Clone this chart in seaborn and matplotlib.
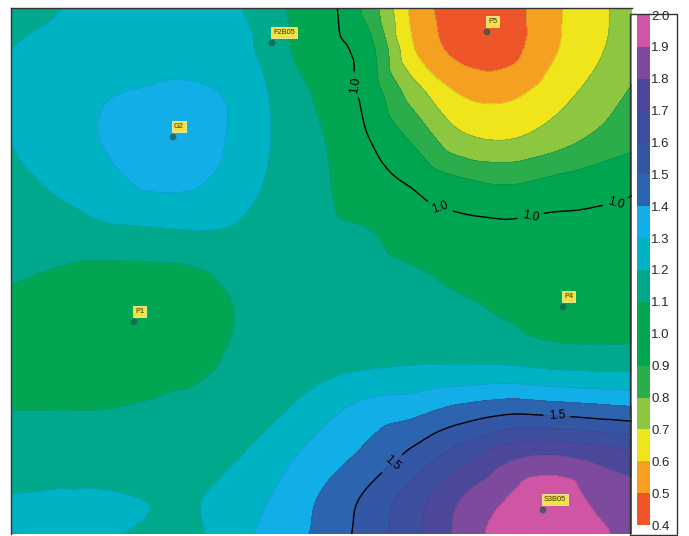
import numpy as np
import matplotlib
matplotlib.use("Agg")
import matplotlib.pyplot as plt
import matplotlib.tri as mtri
from matplotlib.colors import ListedColormap, BoundaryNorm
from matplotlib.patches import Rectangle
import seaborn as sns

sns.set_style("white")
plt.rcParams['font.family'] = ['Liberation Sans', 'DejaVu Sans']

# grid positions (map coordinates) and values
x_pos = [10, 55, 100, 145, 190, 235, 280, 325, 370, 415, 460, 505, 550, 595, 640]
y_pos = [5, 50, 95, 140, 185, 230, 275, 320, 365, 410, 455, 500, 545]

z_rows = [
    [1.15, 1.19, 1.25, 1.27, 1.27, 1.21, 1.11, 1.04, 0.85, 0.56, 0.45, 0.45, 0.57, 0.67, 0.76],
    [1.20, 1.23, 1.26, 1.26, 1.26, 1.25, 1.12, 1.05, 0.93, 0.60, 0.47, 0.46, 0.58, 0.68, 0.78],
    [1.21, 1.25, 1.29, 1.31, 1.32, 1.28, 1.17, 1.07, 0.96, 0.75, 0.60, 0.58, 0.65, 0.74, 0.83],
    [1.20, 1.25, 1.30, 1.36, 1.36, 1.28, 1.18, 1.10, 1.00, 0.88, 0.73, 0.70, 0.75, 0.82, 0.88],
    [1.17, 1.21, 1.25, 1.31, 1.31, 1.25, 1.17, 1.11, 1.03, 0.99, 0.93, 0.90, 0.93, 0.96, 0.99],
    [1.14, 1.16, 1.18, 1.19, 1.20, 1.19, 1.15, 1.12, 1.10, 1.05, 1.03, 1.02, 1.03, 1.03, 1.03],
    [1.11, 1.09, 1.07, 1.07, 1.08, 1.12, 1.15, 1.15, 1.13, 1.11, 1.08, 1.06, 1.05, 1.05, 1.05],
    [1.07, 1.05, 1.04, 1.04, 1.05, 1.10, 1.15, 1.16, 1.16, 1.15, 1.13, 1.10, 1.06, 1.05, 1.06],
    [1.07, 1.06, 1.05, 1.06, 1.07, 1.12, 1.17, 1.17, 1.19, 1.20, 1.20, 1.20, 1.18, 1.17, 1.17],
    [1.10, 1.10, 1.10, 1.11, 1.13, 1.15, 1.19, 1.27, 1.34, 1.37, 1.43, 1.47, 1.46, 1.44, 1.42],
    [1.14, 1.15, 1.15, 1.15, 1.16, 1.19, 1.27, 1.35, 1.43, 1.53, 1.65, 1.76, 1.80, 1.76, 1.72],
    [1.205, 1.21, 1.21, 1.20, 1.19, 1.25, 1.32, 1.42, 1.53, 1.66, 1.80, 1.90, 1.98, 1.88, 1.83],
    [1.195, 1.20, 1.20, 1.19, 1.18, 1.27, 1.36, 1.44, 1.55, 1.68, 1.83, 1.95, 1.99, 1.93, 1.86],
]

# wells
well_names = ['F2B05', 'P5', 'G2', 'P1', 'P4', 'S3B05']
well_x = [272, 487, 173, 134, 563, 543]
well_y = [43, 32, 137, 322, 307, 510]

levels = [0.4, 0.5, 0.6, 0.7, 0.8, 0.9, 1.0, 1.1, 1.2, 1.3, 1.4, 1.5, 1.6, 1.7, 1.8, 1.9, 2.0]
level_colors = ['#ee5529', '#f5a021', '#f0e51a', '#8dc63f', '#2aad4a', '#00a550',
                '#00a651', '#00a88c', '#00b3c4', '#12aee8', '#2c64b0', '#3457a5',
                '#3d4e9f', '#4b479b', '#7d4a9e', '#d056a5']

cmap = ListedColormap(level_colors)
norm = BoundaryNorm(levels, cmap.N)

X, Y = np.meshgrid(x_pos, y_pos)
Z = np.array(z_rows)
tri = mtri.Triangulation(X.ravel(), Y.ravel())
interp = mtri.CubicTriInterpolator(tri, Z.ravel(), kind='geom')
refiner = mtri.UniformTriRefiner(tri)
tri_f, z_f = refiner.refine_field(Z.ravel(), triinterpolator=interp, subdiv=3)
z_f = np.clip(z_f, 0.401, 1.999)

fig = plt.figure(figsize=(6.89, 5.36), dpi=100)
ax = fig.add_axes([11 / 689, 2 / 536, 621 / 689, 526 / 536])

cs = ax.tricontourf(tri_f, z_f, levels=levels, cmap=cmap, norm=norm)
ax.tricontour(tri_f, z_f, levels=levels, colors='#1a3a30', linewidths=0.4, alpha=0.25)
cl = ax.tricontour(tri_f, z_f, levels=[1.0, 1.5], colors='black', linewidths=1.0)
ax.clabel(cl, fmt='%.1f', fontsize=8.5, inline=True,
          manual=[(355, 85), (440, 207), (530, 213), (612, 190), (557, 413), (395, 467)])

sns.scatterplot(x=well_x, y=well_y, ax=ax, s=24, color='#1f5a4c', alpha=0.75,
                edgecolor='none', zorder=5, legend=False)
for name, wx, wy in zip(well_names, well_x, well_y):
    ax.annotate(name, (wx, wy), xytext=(1, 7), textcoords='offset pixels',
                ha='left', va='bottom', fontsize=5.3, color='#3a3000', zorder=6,
                bbox=dict(boxstyle='square,pad=0.25', fc='#f2e24a', ec='#f7ef9a', lw=0.6))

ax.set_xlim(11, 632)
ax.set_ylim(534, 8)
ax.set_xticks([])
ax.set_yticks([])
for sp in ax.spines.values():
    sp.set_color('#333333')
    sp.set_linewidth(1.0)
ax.spines['right'].set_visible(False)
ax.spines['bottom'].set_visible(False)

# colour bar
cax = fig.add_axes([637 / 689, 11 / 536, 13 / 689, 510 / 536])
cb = fig.colorbar(cs, cax=cax, ticks=levels)
cb.ax.set_yticklabels([f"{v:.1f}" for v in levels])
cb.ax.tick_params(length=0, pad=1, labelsize=9.5)
cb.outline.set_visible(False)

fig.patches.append(Rectangle((630 / 689, 1 / 536), 47 / 689, 521 / 536,
                             transform=fig.transFigure, fill=False,
                             ec='#333333', lw=1.0))

fig.savefig('out.png', dpi=100)
